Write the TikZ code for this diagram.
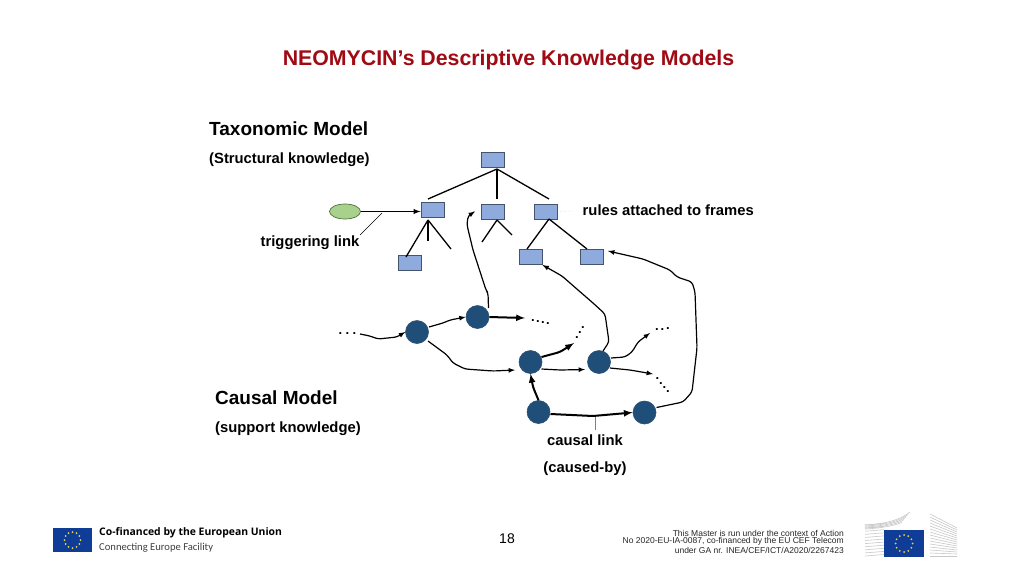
\documentclass[tikz,border=0pt]{standalone}
\usepackage{fontspec}
\usetikzlibrary{shapes.geometric}
\setmainfont{Liberation Sans}
\newfontfamily\logofont{Open Sans}
\newfontfamily\ceffont{Carlito}
\definecolor{titlered}{HTML}{A00A14}
\definecolor{framefill}{HTML}{8FAADC}
\definecolor{frameedge}{HTML}{44546A}
\definecolor{ovalfill}{HTML}{A9D18E}
\definecolor{ovaledge}{HTML}{4F6F40}
\definecolor{causefill}{HTML}{1F4E79}
\definecolor{causeedge}{HTML}{2F4F6F}
\definecolor{eublue}{HTML}{0F3C96}
\definecolor{eustar}{HTML}{E8D44A}
\definecolor{wing}{HTML}{C8C8C8}
\begin{document}
\begin{tikzpicture}[x=1pt,y=-1pt,
    frame/.style = {shape = rectangle,
                    fill = framefill,
                    draw = frameedge,
                    line width = 0.9pt,
                    inner sep = 0pt,
                    minimum width = 23pt,
                    minimum height = 15pt},
    cause/.style = {shape = circle,
                    fill = causefill,
                    draw = causeedge,
                    line width = 0.6pt,
                    inner sep = 0pt,
                    minimum size = 23pt},
    treeline/.style = {line width = 1.3pt, black},
    link/.style = {-latex, line width = 1.2pt, rounded corners = 3pt},
    boldlink/.style = {-latex, line width = 2pt, rounded corners = 3pt},
    heading/.style = {font = \fontsize{19}{21}\selectfont\bfseries, anchor = west, inner sep = 0pt},
    subhead/.style = {font = \fontsize{14.8}{17}\selectfont\bfseries, anchor = west, inner sep = 0pt},
    label/.style = {font = \fontsize{14.8}{17}\selectfont\bfseries, inner sep = 0pt},
    more/.style = {font = \fontsize{13}{13}\selectfont\bfseries, inner sep = 0pt},
    small/.style = {font = \fontsize{8.5}{8.5}\selectfont, anchor = east, inner sep = 0pt, text = black!85}]
    \useasboundingbox[fill = white] (0,0) rectangle (1024,576);

    \node[font = \fontsize{21.3}{24}\selectfont\bfseries, text = titlered, inner sep = 0pt] (title) at (508.5,60) {NEOMYCIN’s Descriptive Knowledge Models};
    \node[heading] (taxo) at (209,129) {Taxonomic Model};
    \node[subhead] (struct) at (209,159.5) {(Structural knowledge)};
    \node[heading] (causal) at (215,398) {Causal Model};
    \node[subhead] (support) at (215,428.5) {(support knowledge)};
    \node[label] (trigger) at (310,243) {triggering link};
    \node[label, anchor = west] (rules) at (582.5,210) {rules attached to frames};
    \node[label] (clink) at (585,440) {causal link};
    \node[label] (cby) at (585,468.5) {(caused-by)};

    \node[frame] (top) at (492.5,159.5) {};
    \node[frame] (fa) at (432.5,209.5) {};
    \node[frame] (fb) at (492.5,211.5) {};
    \node[frame] (fc) at (546,211.5) {};
    \node[frame] (fd) at (409.5,262.5) {};
    \node[frame] (fe) at (530.5,257) {};
    \node[frame] (ff) at (591.5,257) {};
    \node[shape = ellipse, fill = ovalfill, draw = ovaledge, line width = 0.7pt, inner sep = 0pt,
          minimum width = 31pt, minimum height = 15pt] (oval) at (345,211.5) {};

    \node[cause] (c1) at (417,332) {};
    \node[cause] (c2) at (477.5,317) {};
    \node[cause] (c3) at (530.5,362) {};
    \node[cause] (c4) at (599,362) {};
    \node[cause] (c5) at (538.5,412) {};
    \node[cause] (c6) at (644.5,412.5) {};

    \coordinate (apex) at (497,169);
    \coordinate (ta) at (428,199);
    \coordinate (tb) at (497,199);
    \coordinate (tc) at (549,199);
    \coordinate (aa) at (428,220);
    \coordinate (ab) at (428,241);
    \coordinate (ac) at (451,249);
    \coordinate (ad) at (406,257);
    \coordinate (ba) at (497,220);
    \coordinate (bb) at (482,242);
    \coordinate (bc) at (512,235);
    \coordinate (ca) at (549,219);
    \coordinate (cb) at (527,249);
    \coordinate (cc) at (587,249);
    \draw[treeline] (apex) -- (ta);
    \draw[treeline] (apex) -- (tb);
    \draw[treeline] (apex) -- (tc);
    \draw[treeline] (aa) -- (ad);
    \draw[treeline] (aa) -- (ab);
    \draw[treeline] (aa) -- (ac);
    \draw[treeline] (ba) -- (bb);
    \draw[treeline] (ba) -- (bc);
    \draw[treeline] (ca) -- (cb);
    \draw[treeline] (ca) -- (cc);

    \draw[-latex, line width = 1.4pt] (oval.east) -- (fa.west |- oval.east);
    \coordinate (trigfoot) at (360,235);
    \coordinate (trighead) at (382,213);
    \draw[line width = 0.5pt] (trigfoot) -- (trighead);
    \coordinate (rulesend) at (573,211);
    \draw[wing, dotted, line width = 0.5pt] (fc.east) -- (rulesend);
    \coordinate (clinktop) at (595,415);
    \coordinate (clinkfoot) at (595,430);
    \draw[black!50, line width = 0.7pt] (clinktop) -- (clinkfoot);

    \foreach \i in {0,1,2}
        \node[more] (doa\i) at (340.5+7*\i,334) {.};
    \foreach \i in {0,1,2,3}
        \node[more] (dob\i) at (533+5*\i,321+1*\i) {.};
    \foreach \i in {0,1,2}
        \node[more] (doc\i) at (583-3*\i,328+5*\i) {.};
    \foreach \i in {0,1,2}
        \node[more] (dod\i) at (657+5.5*\i,330-0.5*\i) {.};
    \foreach \i in {0,1,2,3}
        \node[more] (doe\i) at (657.5+3.5*\i,379+4.3*\i) {.};

    \coordinate (in1) at (360,334);
    \coordinate (out2) at (525,318);
    \coordinate (out3) at (574,343);
    \coordinate (out4) at (650,333);
    \coordinate (out5) at (653,374);
    \coordinate (back2) at (475,211.5);
    \coordinate (back6) at (608,251);
    \coordinate (in3) at (515,370);
    \coordinate (in4) at (585,369.5);
    \draw[link] (in1) -- (370,336) -- (378,339) -- (397,337) -- (c1.west);
    \draw[link] (c1) ++(12,-5) -- (443,323) -- (450,320) -- (c2.west);
    \draw[link] (c1) ++(11,9) -- (447,355) -- (453,363) -- (465,369) -- (493,371) -- (in3);
    \draw[link] (c2) ++(11,-9) -- (488,293) -- (486,290) -- (473,250) -- (467,225) -- (468,216) -- (back2);
    \draw[boldlink] (c2.east) -- (out2);
    \draw[boldlink] (c3) ++(11,-5) -- (560,352) -- (out3);
    \draw[link] (c3) ++(11,7) -- (560,370) -- (in4);
    \draw[link] (c4) ++(4,-11) -- (609,342) -- (605,314) -- (593,303) -- (578,290) -- (570,283) -- (562,276) -- (fe.south east);
    \draw[link] (c4) ++(12,-4) -- (625,357) -- (632,352) -- (638,342) -- (out4);
    \draw[link] (c4) ++(11,6) -- (630,370) -- (out5);
    \draw[boldlink] (c5.north) -- (533,387) -- (c3.south);
    \draw[boldlink] (c5) ++(12,2) -- (593,416) -- (c6.west);
    \draw[link] (c6) ++(12,-5) -- (683,402) -- (692,392) -- (697,348) -- (695,292) -- (692,282) -- (677,277) -- (670,270) -- (643,259) -- (back6);

    \node[font = \fontsize{14}{16}\selectfont, inner sep = 0pt] (page) at (507,539) {18};

    \node[fill = eublue, minimum width = 39pt, minimum height = 24pt, inner sep = 0pt] (flagl) at (72.5,540) {};
    \foreach \a in {0,30,...,330}
        \fill[eustar] (flagl) ++(\a:8pt) circle (1pt);
    \node[font = \logofont\fontsize{10.4}{12}\selectfont\bfseries, anchor = west, inner sep = 0pt] (cofin) at (99,533) {Co-financed by the European Union};
    \node[font = \ceffont\fontsize{10.6}{12}\selectfont, anchor = west, inner sep = 0pt, text = black!75] (cef) at (99,548) {Connecting Europe Facility};

    \node[small] (ma) at (844,533) {This Master is run under the context of Action};
    \node[small] (mb) at (844,541.5) {No 2020-EU-IA-0087, co-financed by the EU CEF Telecom};
    \node[small] (mc) at (844,550.5) {under GA nr. INEA/CEF/ICT/A2020/2267423};

    \foreach \i in {0,1,...,10}
        \draw[wing, line width = 0.6pt] (865,525+3.1*\i) -- (884,525+3.1*\i-1.5);
    \foreach \i in {0,1,...,4}
        \draw[wing, line width = 0.6pt] (865,525+\i*1) .. controls (885,524+\i*1) and (900,520+\i*1) .. (910-\i*2,512+\i*2.5);
    \foreach \i in {0,1,...,14}
        \draw[wing, line width = 0.6pt] (930,514+3*\i) -- (957,528+2*\i);
    \node[fill = eublue, minimum width = 40pt, minimum height = 27pt, inner sep = 0pt] (flagr) at (904,543.5) {};
    \foreach \a in {0,30,...,330}
        \fill[eustar] (flagr) ++(\a:8.5pt) circle (1pt);
\end{tikzpicture}
\end{document}
